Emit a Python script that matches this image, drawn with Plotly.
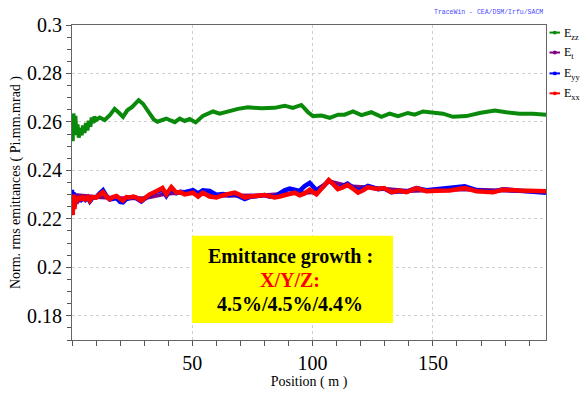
import plotly.graph_objects as go

# ---------------- data ----------------
x_zz = [0, 0.3, 0.6, 1.0, 1.4, 1.8, 2.3, 2.8, 3.4, 4.0, 4.6, 5.2, 5.8, 6.4, 7.0, 7.6, 8.2, 8.7, 9.3, 10.0,
        11.5, 13.6, 15.7, 17.7, 19.5, 21.2, 23.0, 25.0, 27.7, 29.5, 32.3, 34.0, 35.5, 37.2, 39.2, 41.0, 42.7,
        44.8, 46.8, 48.9, 51.4, 54.4, 58.6, 61.4, 64.7, 69.0, 73.1, 78.7, 84.2, 88.4, 91.8, 95.3, 98.1, 100.2,
        103.7, 107.1, 110.6, 113.3, 116.8, 120.3, 124.4, 128.6, 132.0, 135.5, 139.6, 142.4, 145.9, 150.0,
        154.2, 158.3, 163.9, 169.4, 175.7, 180.5, 186.0, 191.6, 197.0]
e_zz = [0.2620, 0.2520, 0.2635, 0.2545, 0.2625, 0.2555, 0.2590, 0.2535, 0.2575, 0.2545, 0.2585, 0.2555,
        0.2595, 0.2565, 0.2605, 0.2580, 0.2618, 0.2595, 0.2622, 0.2608, 0.2618, 0.2608, 0.2628, 0.2654,
        0.2638, 0.2621, 0.2648, 0.2662, 0.2690, 0.2675, 0.2634, 0.2610, 0.2601, 0.2608, 0.2614, 0.2606,
        0.2599, 0.2614, 0.2604, 0.2612, 0.2598, 0.2625, 0.2643, 0.2634, 0.2643, 0.2654, 0.2660, 0.2656,
        0.2658, 0.2667, 0.2658, 0.2670, 0.2640, 0.2624, 0.2626, 0.2617, 0.2630, 0.2630, 0.2643, 0.2628,
        0.2640, 0.2621, 0.2634, 0.2624, 0.2637, 0.2630, 0.2643, 0.2637, 0.2634, 0.2621, 0.2624, 0.2637,
        0.2647, 0.2640, 0.2634, 0.2634, 0.2630]

x_tr = [0, 0.3, 0.6, 1.0, 1.4, 1.8, 2.3, 2.8, 3.4, 4.0, 4.6, 5.5, 6.5, 7.4, 8.5, 10.1, 11.5, 12.9, 14.3,
        15.7, 17.0, 18.5, 20.0, 21.2, 22.6, 24.0, 25.5, 26.8, 28.8, 30.5, 32.3, 35.1, 37.6, 39.2, 41.3, 43.4,
        45.0, 46.8, 48.5, 50.3, 52.4, 54.4, 57.2, 60.0, 62.8, 65.3, 67.6, 69.5, 71.8, 73.8, 75.9, 78.0, 80.1,
        82.0, 84.2, 86.3, 88.4, 90.5, 92.6, 94.6, 96.7, 98.8, 101.6, 104.3, 106.7, 108.6, 110.5, 112.5,
        114.5, 116.7, 118.9, 121.0, 123.0, 125.1, 127.2, 129.7, 132.7, 136.2, 139.0, 143.1, 147.3, 151.4,
        157.0, 163.2, 168.1, 175.0, 179.1, 186.0, 191.6, 197.0]
e_xx = [0.2290, 0.2215, 0.2300, 0.2240, 0.2295, 0.2265, 0.2290, 0.2275, 0.2292, 0.2278, 0.2288, 0.2280,
        0.2290, 0.2275, 0.2290, 0.2288, 0.2300, 0.2310, 0.2292, 0.2281, 0.2290, 0.2294, 0.2283, 0.2275,
        0.2290, 0.2288, 0.2292, 0.2288, 0.2275, 0.2290, 0.2301, 0.2314, 0.2327, 0.2301, 0.2331, 0.2308,
        0.2310, 0.2301, 0.2306, 0.2308, 0.2292, 0.2308, 0.2292, 0.2288, 0.2298, 0.2301, 0.2308, 0.2300,
        0.2288, 0.2292, 0.2294, 0.2293, 0.2298, 0.2294, 0.2288, 0.2292, 0.2297, 0.2304, 0.2308, 0.2297,
        0.2305, 0.2320, 0.2301, 0.2331, 0.2360, 0.2343, 0.2323, 0.2330, 0.2340, 0.2325, 0.2308, 0.2318,
        0.2331, 0.2326, 0.2323, 0.2327, 0.2310, 0.2316, 0.2310, 0.2327, 0.2314, 0.2316, 0.2317, 0.2327,
        0.2314, 0.2310, 0.2321, 0.2317, 0.2315, 0.2314]
e_yy = [0.2320, 0.2225, 0.2310, 0.2250, 0.2300, 0.2262, 0.2285, 0.2270, 0.2290, 0.2280, 0.2285, 0.2278,
        0.2288, 0.2272, 0.2286, 0.2290, 0.2305, 0.2318, 0.2295, 0.2280, 0.2283, 0.2285, 0.2270, 0.2268,
        0.2282, 0.2286, 0.2290, 0.2285, 0.2272, 0.2285, 0.2298, 0.2312, 0.2320, 0.2295, 0.2325, 0.2306,
        0.2312, 0.2310, 0.2316, 0.2318, 0.2305, 0.2318, 0.2315, 0.2300, 0.2302, 0.2298, 0.2302, 0.2295,
        0.2282, 0.2290, 0.2293, 0.2294, 0.2298, 0.2292, 0.2290, 0.2305, 0.2318, 0.2325, 0.2320, 0.2315,
        0.2335, 0.2348, 0.2318, 0.2332, 0.2358, 0.2345, 0.2325, 0.2335, 0.2345, 0.2330, 0.2315, 0.2325,
        0.2336, 0.2330, 0.2322, 0.2325, 0.2310, 0.2314, 0.2312, 0.2327, 0.2318, 0.2322, 0.2328, 0.2334,
        0.2318, 0.2312, 0.2322, 0.2316, 0.2312, 0.2308]

x_t = [0, 10, 20, 30, 40, 50, 60, 70, 80, 90, 100, 107, 115, 125, 140, 160, 180, 197]
e_t = [0.2300, 0.2290, 0.2285, 0.2285, 0.2305, 0.2310, 0.2295, 0.2295, 0.2297, 0.2305, 0.2310, 0.2355,
       0.2335, 0.2328, 0.2315, 0.2322, 0.2318, 0.2312]

legend_labels = ["E<sub>zz</sub>", "E<sub>t</sub>", "E<sub>yy</sub>", "E<sub>xx</sub>"]
colors = ["#0a8a0a", "#800080", "#0000ff", "#ff0000"]

title_text = "TraceWin - CEA/DSM/Irfu/SACM"
box_lines = ["Emittance growth :", "X/Y/Z:", "4.5%/4.5%/4.4%"]
box_colors = ["black", "#ff0000", "black"]

# ---------------- figure ----------------
W, H = 580, 397
L, R, T, B = 72, 34, 25, 40
pw, ph = W - L - R, H - T - B

def px_x(p):
    return (p - L) / pw

def px_y(p):
    return (H - B - p) / ph

fig = go.Figure()
series = [(x_zz, e_zz, 4), (x_t, e_t, 4), (x_tr, e_yy, 4.5), (x_tr, e_xx, 4.5)]
for (xs, ys, lw), c, name in zip(series, colors, legend_labels):
    fig.add_trace(go.Scatter(x=xs, y=ys, mode="lines", name=name, showlegend=False,
                             line=dict(color=c, width=lw)))

serif = "Liberation Serif"

fig.update_layout(
    width=W, height=H,
    margin=dict(l=L, r=R, t=T, b=B),
    plot_bgcolor="white", paper_bgcolor="white",
    showlegend=False,
    font=dict(family=serif, color="black"),
    xaxis=dict(range=[0, 197], tickvals=[50, 100, 150], ticks="outside", ticklen=5,
               tickcolor="#555", showgrid=True, gridcolor="#cfcfcf", griddash="dot", gridwidth=1,
               showline=True, linecolor="#666", linewidth=1, mirror=True, zeroline=False,
               minor=dict(dtick=10, tick0=0, ticks="outside", ticklen=5, tickcolor="#555", showgrid=False),
               tickfont=dict(family=serif, size=20, color="black"),
               title=dict(text="Position ( m )", font=dict(family=serif, size=14, color="black"), standoff=1)),
    yaxis=dict(range=[0.17, 0.3], tickvals=[0.18, 0.2, 0.22, 0.24, 0.26, 0.28, 0.3],
               ticktext=["0.18", "0.2", "0.22", "0.24", "0.26", "0.28", "0.3"],
               ticks="outside", ticklen=5, tickcolor="#555",
               showgrid=True, gridcolor="#cfcfcf", griddash="dot", gridwidth=1,
               showline=True, linecolor="#666", linewidth=1, mirror=True, zeroline=False,
               minor=dict(dtick=0.005, tick0=0.17, ticks="outside", ticklen=4, tickcolor="#555", showgrid=False),
               tickfont=dict(family=serif, size=20, color="black"),
               title=dict(text="Norm. rms emittances ( Pi.mm.mrad )",
                          font=dict(family=serif, size=14, color="black"), standoff=3)),
)

# title
fig.add_annotation(text=title_text, xref="paper", yref="paper", x=px_x(545), y=px_y(12),
                   xanchor="right", yanchor="middle", showarrow=False,
                   font=dict(family="Liberation Mono", size=6.5, color="#4a4aff"))

# custom legend
leg_y = [33, 54, 76, 97]
for yy, c, lab in zip(leg_y, colors, legend_labels):
    fig.add_shape(type="line", xref="paper", yref="paper", x0=px_x(549.5), x1=px_x(560),
                  y0=px_y(yy), y1=px_y(yy), line=dict(color=c, width=2))
    fig.add_shape(type="circle", xref="paper", yref="paper", x0=px_x(552.8), x1=px_x(556.8),
                  y0=px_y(yy + 2), y1=px_y(yy - 2), fillcolor=c, line=dict(color=c, width=0))
    fig.add_annotation(text=lab, xref="paper", yref="paper", x=px_x(561.5), y=px_y(yy + 1),
                       xanchor="left", yanchor="middle", showarrow=False,
                       font=dict(family=serif, size=12, color="black"))

# yellow box
fig.add_shape(type="rect", xref="paper", yref="paper", x0=px_x(192), x1=px_x(393),
              y0=px_y(339), y1=px_y(247), fillcolor="#ffff00", line=dict(width=0), layer="above")
for i, (txt, col) in enumerate(zip(box_lines, box_colors)):
    fig.add_annotation(text="<b>" + txt + "</b>", xref="paper", yref="paper", x=px_x(290),
                       y=px_y(269 + 25 * i), xanchor="center", yanchor="middle", showarrow=False,
                       font=dict(family=serif, size=20, color=col))

fig.write_html("out.html")
